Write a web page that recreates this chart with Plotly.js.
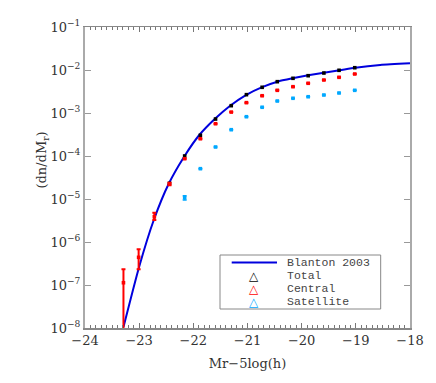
<!DOCTYPE html>
<html>
<head>
<meta charset="utf-8">
<script src="https://cdn.plot.ly/plotly-3.0.1.min.js"></script>
<style>
  body { margin: 0; background: #fff; }
  #plot { width: 436px; height: 383px; }
</style>
</head>
<body>
<div id="plot"></div>
<script>
// magnitude bins (Mr - 5log h)
var magBins = [-23.29, -23.01, -22.72, -22.44, -22.16, -21.87, -21.59, -21.30,
               -21.02, -20.73, -20.45, -20.16, -19.88, -19.59, -19.31, -19.02];

// Blanton 2003 curve
var blantonMag = [-23.29, -23.0, -22.73, -22.45, -22.17, -21.89, -21.60, -21.32,
                  -21.03, -20.74, -20.45, -20.17, -19.88, -19.59, -19.30, -19.01, -18.55, -18.0];
var blantonPhi = [1.05e-8, 2.67e-7, 3.25e-6, 2.32e-5, 9.64e-5, 3.08e-4, 7.36e-4, 1.48e-3,
                  2.62e-3, 3.96e-3, 5.35e-3, 6.41e-3, 7.53e-3, 8.65e-3, 9.84e-3, 1.13e-2, 1.31e-2, 1.43e-2];

// total (starts at 4th bin)
var totalPhi = [2.32e-5, 1.0e-4, 3.03e-4, 7.24e-4, 1.48e-3, 2.67e-3, 3.96e-3,
                5.35e-3, 6.41e-3, 7.37e-3, 8.51e-3, 9.84e-3, 1.13e-2];

// central
var centralPhi = [1.13e-7, 4.4e-7, 3.87e-6, 2.23e-5, 8.65e-5, 2.52e-4, 5.63e-4, 1.05e-3,
                  1.74e-3, 2.52e-3, 3.37e-3, 4.09e-3, 4.91e-3, 5.85e-3, 6.76e-3, 8.07e-3];
var centralErrUp = [1.19e-7, 2.36e-7, 0.93e-6, 1.5e-6, 0, 0, 0, 0, 0, 0, 0, 0, 0, 0, 0, 0];
var centralErrDn = [1.125e-7, 2.08e-7, 0.62e-6, 1.5e-6, 0, 0, 0, 0, 0, 0, 0, 0, 0, 0, 0, 0];

// satellite (starts at 5th bin)
var satellitePhi = [1.07e-5, 5.07e-5, 1.62e-4, 4.09e-4, 8.2e-4, 1.36e-3, 1.90e-3,
                    2.2e-3, 2.39e-3, 2.62e-3, 2.92e-3, 3.37e-3];
var satelliteErr = [1.2e-6, 0, 0, 0, 0, 0, 0, 0, 0, 0, 0, 0];

var yTickVals = [1e-8, 1e-7, 1e-6, 1e-5, 1e-4, 1e-3, 1e-2, 1e-1];
var yTickText = ['10<sup>−8</sup>', '10<sup>−7</sup>', '10<sup>−6</sup>', '10<sup>−5</sup>',
                 '10<sup>−4</sup>', '10<sup>−3</sup>', '10<sup>−2</sup>', '10<sup>−1</sup>'];
var xTickVals = [-24, -23, -22, -21, -20, -19, -18];
var xTickText = ['−24', '−23', '−22', '−21', '−20', '−19', '−18'];

var legendLabels = ['Blanton 2003', 'Total', 'Central', 'Satellite'];
var legendColors = ['#0000dd', '#000000', '#ff0000', '#00a8ff'];

var serif = '"DejaVu Serif", serif';
var mono = '"Liberation Mono", monospace';

var curve = {
  x: blantonMag, y: blantonPhi,
  mode: 'lines', type: 'scatter',
  line: {color: '#0000dd', width: 2, shape: 'spline', smoothing: 0.6},
  hoverinfo: 'skip'
};

var total = {
  x: magBins.slice(3), y: totalPhi,
  mode: 'markers', type: 'scatter',
  marker: {symbol: 'square', size: 3.6, color: '#000000'}
};

var central = {
  x: magBins, y: centralPhi,
  mode: 'markers', type: 'scatter',
  marker: {symbol: 'square', size: 3.6, color: '#ff0000'},
  error_y: {type: 'data', symmetric: false, array: centralErrUp, arrayminus: centralErrDn,
            color: '#ff0000', thickness: 2, width: 2}
};

var satellite = {
  x: magBins.slice(4), y: satellitePhi,
  mode: 'markers', type: 'scatter',
  marker: {symbol: 'square', size: 3.6, color: '#00a8ff'},
  error_y: {type: 'data', array: satelliteErr, color: '#00a8ff', thickness: 1.5, width: 2}
};

var data = [curve, total, central, satellite];

// hand-drawn legend box in paper coordinates
var legendRowY = [0.2176, 0.1744, 0.1312, 0.0880];
var annotations = [{
  text: '(dn/dM<sub>r</sub>)', xref: 'paper', yref: 'paper', x: -0.163, y: 0.558,
  textangle: -90, showarrow: false, font: {family: serif, size: 13, color: '#333'}
}];
legendLabels.forEach(function (lab, i) {
  annotations.push({
    text: lab, xref: 'paper', yref: 'paper', x: 0.6154, y: legendRowY[i],
    xanchor: 'left', yanchor: 'middle', showarrow: false,
    font: {family: mono, size: 11.5, color: '#444'}
  });
  if (i > 0) {
    annotations.push({
      text: '<b>△</b>', xref: 'paper', yref: 'paper', x: 0.52, y: legendRowY[i],
      xanchor: 'center', yanchor: 'middle', showarrow: false,
      font: {family: 'DejaVu Sans, sans-serif', size: 12, color: legendColors[i]}
    });
  }
});

var layout = {
  width: 436, height: 383,
  margin: {l: 85, r: 26, t: 27, b: 55},
  paper_bgcolor: '#fff', plot_bgcolor: '#fff',
  showlegend: false,
  xaxis: {
    range: [-24, -18],
    tickvals: xTickVals, ticktext: xTickText,
    ticks: 'inside', ticklen: 5, tickcolor: '#777', tickwidth: 1,
    minor: {dtick: 0.1, ticks: 'inside', ticklen: 3, tickcolor: '#777'},
    showline: true, linecolor: '#888', linewidth: 1.5, mirror: 'ticks',
    showgrid: false, zeroline: false,
    tickfont: {family: serif, size: 13, color: '#333'},
    title: {text: 'Mr−5log(h)', font: {family: serif, size: 13, color: '#333'}, standoff: 12}
  },
  yaxis: {
    type: 'log', range: [-8, -1],
    tickvals: yTickVals, ticktext: yTickText,
    ticks: 'inside', ticklen: 6, tickcolor: '#999', tickwidth: 1,
    showline: true, linecolor: '#aaa', linewidth: 2, mirror: 'ticks',
    showgrid: false, zeroline: false,
    tickfont: {family: serif, size: 13, color: '#333'}
  },
  shapes: [
    {type: 'rect', xref: 'paper', yref: 'paper', x0: 0.4154, x1: 0.9098, y0: 0.0631, y1: 0.2425,
     line: {color: '#888', width: 1}, fillcolor: 'rgba(0,0,0,0)'},
    {type: 'line', xref: 'paper', yref: 'paper', x0: 0.4514, x1: 0.5908, y0: 0.2176, y1: 0.2176,
     line: {color: legendColors[0], width: 2}}
  ],
  annotations: annotations
};

Plotly.newPlot('plot', data, layout, {displayModeBar: false, staticPlot: true});
</script>
</body>
</html>
